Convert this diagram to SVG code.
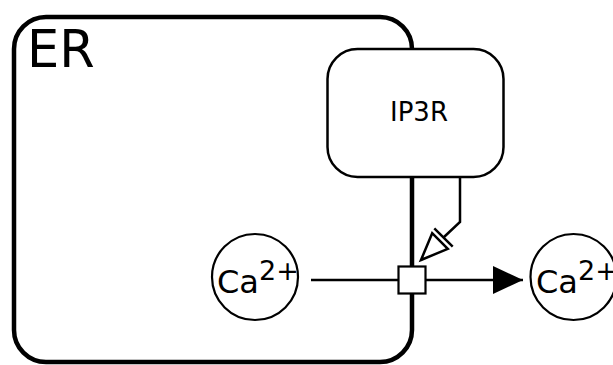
<svg xmlns="http://www.w3.org/2000/svg" width="613" height="365" viewBox="0 0 613 365">
<style>
text{font-family:"DejaVu Sans","Liberation Sans",sans-serif;fill:#000}
.ln{fill:none;stroke:#000;stroke-width:2.5}
.nd{fill:#fff;stroke:#000}
</style>
<defs>
<marker id="prod" viewBox="0 0 30 28" refX="30" refY="14" markerWidth="30" markerHeight="28" markerUnits="userSpaceOnUse" orient="auto">
<path d="M0,0 L30,14 L0,28 Z" fill="#000"/>
</marker>
</defs>
<rect width="613" height="365" fill="#fff"/>
<g id="ER">
<rect x="14" y="17" width="398" height="345" rx="32" ry="32" fill="none" stroke="#000" stroke-width="4.5"/>
<text x="27" y="67" font-size="51">ER</text>
</g>
<g id="IP3R">
<rect class="nd" x="327.5" y="49" width="176" height="128" rx="30" ry="30" stroke-width="2.5"/>
<text x="419" y="121" font-size="26" text-anchor="middle">IP3R</text>
</g>
<g id="Ca_ER">
<circle class="nd" cx="255" cy="277" r="43" stroke-width="2.2"/>
<text x="217" y="293" font-size="32">Ca<tspan dx="0" dy="-13" font-size="27">2+</tspan></text>
</g>
<g id="Ca_cyt">
<circle class="nd" cx="573.5" cy="277" r="43" stroke-width="2.2"/>
<text x="536" y="293" font-size="32">Ca<tspan dx="0" dy="-13" font-size="27">2+</tspan></text>
</g>
<g id="connectors">
<line class="ln" x1="311" y1="280" x2="398" y2="280"/>
<line class="ln" x1="426" y1="280" x2="523" y2="280" marker-end="url(#prod)"/>
<polyline class="ln" points="460,177 460,222 443.5,237.5"/>
<path class="ln" d="M421,260 L447.8,248.8 L432.2,233.2 Z" fill="#fff"/>
<line class="ln" x1="434.3" y1="228.3" x2="452.7" y2="246.7"/>
</g>
<g id="process">
<rect class="nd" x="398.5" y="266.5" width="27" height="27" stroke-width="2.2"/>
</g>
</svg>
